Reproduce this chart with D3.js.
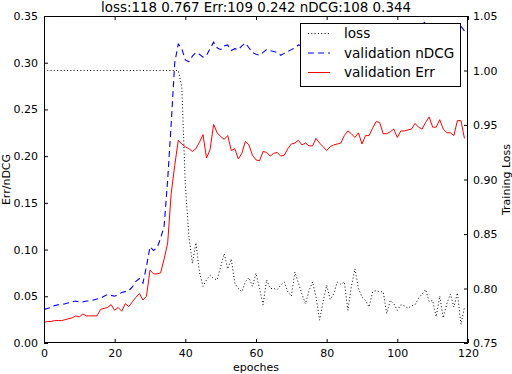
<!DOCTYPE html>
<html>
<head>
<meta charset="utf-8">
<script src="https://d3js.org/d3.v7.min.js"></script>
<style>
  body { margin: 0; background: #fff; }
  text { font-family: "DejaVu Sans", sans-serif; fill: #000; }
  .axis text { font-size: 11px; }
  .axis line { stroke: #000; }
  .axis path { display: none; }
</style>
</head>
<body>
<div id="chart"></div>
<script>
// values, one per epoch (0..119)
var err = [
  0.022, 0.023, 0.023, 0.024, 0.024, 0.024, 0.025, 0.026, 0.027, 0.029,
  0.028, 0.031, 0.029, 0.029, 0.029, 0.029, 0.036, 0.037, 0.038, 0.041,
  0.035, 0.038, 0.034, 0.042, 0.039, 0.044, 0.049, 0.053, 0.046, 0.050,
  0.078, 0.074, 0.074, 0.075, 0.090, 0.107, 0.160, 0.190, 0.217, 0.213,
  0.210, 0.208, 0.205, 0.208, 0.215, 0.223, 0.198, 0.207, 0.234, 0.225,
  0.221, 0.218, 0.222, 0.206, 0.208, 0.197, 0.203, 0.216, 0.212, 0.201,
  0.196, 0.195, 0.205, 0.204, 0.200, 0.203, 0.204, 0.200, 0.201, 0.208,
  0.213, 0.214, 0.217, 0.212, 0.214, 0.211, 0.211, 0.219, 0.214, 0.210,
  0.206, 0.210, 0.212, 0.213, 0.214, 0.222, 0.227, 0.224, 0.220, 0.225,
  0.213, 0.222, 0.222, 0.230, 0.237, 0.236, 0.224, 0.224, 0.226, 0.229,
  0.220, 0.227, 0.227, 0.228, 0.229, 0.235, 0.231, 0.229, 0.236, 0.242,
  0.231, 0.231, 0.239, 0.229, 0.225, 0.225, 0.222, 0.238, 0.238, 0.219
];
var ndcg = [
  0.036, 0.037, 0.038, 0.040, 0.041, 0.041, 0.042, 0.043, 0.044, 0.045,
  0.044, 0.044, 0.045, 0.045, 0.046, 0.047, 0.048, 0.050, 0.052, 0.051,
  0.050, 0.052, 0.054, 0.055, 0.056, 0.060, 0.066, 0.069, 0.064, 0.082,
  0.103, 0.099, 0.102, 0.112, 0.125, 0.175, 0.235, 0.300, 0.320, 0.315,
  0.303, 0.301, 0.307, 0.311, 0.309, 0.306, 0.308, 0.315, 0.322, 0.316,
  0.314, 0.318, 0.319, 0.313, 0.315, 0.314, 0.318, 0.321, 0.316, 0.311,
  0.309, 0.308, 0.311, 0.314, 0.313, 0.312, 0.311, 0.308, 0.310, 0.312,
  0.314, 0.316, 0.319, 0.318, 0.320, 0.318, 0.322, 0.321, 0.319, 0.323,
  0.325, 0.322, 0.324, 0.326, 0.323, 0.327, 0.329, 0.326, 0.328, 0.331,
  0.327, 0.329, 0.332, 0.334, 0.331, 0.333, 0.330, 0.334, 0.336, 0.333,
  0.335, 0.337, 0.334, 0.336, 0.338, 0.336, 0.339, 0.341, 0.344, 0.338,
  0.336, 0.339, 0.337, 0.335, 0.338, 0.336, 0.337, 0.340, 0.339, 0.334
];
var loss = [
  1.000, 1.000, 1.000, 1.000, 1.000, 1.000, 1.000, 1.000, 1.000, 1.000,
  1.000, 1.000, 1.000, 1.000, 1.000, 1.000, 1.000, 1.000, 1.000, 1.000,
  1.000, 1.000, 1.000, 1.000, 1.000, 1.000, 1.000, 1.000, 1.000, 1.000,
  1.000, 1.000, 1.000, 1.000, 1.000, 1.000, 1.000, 1.000, 1.000, 0.985,
  0.895, 0.848, 0.823, 0.842, 0.815, 0.802, 0.808, 0.812, 0.809, 0.808,
  0.820, 0.832, 0.818, 0.827, 0.805, 0.800, 0.797, 0.806, 0.810, 0.802,
  0.814, 0.800, 0.785, 0.808, 0.800, 0.800, 0.799, 0.803, 0.806, 0.797,
  0.793, 0.815, 0.805, 0.795, 0.786, 0.798, 0.806, 0.792, 0.771, 0.788,
  0.803, 0.790, 0.795, 0.806, 0.804, 0.806, 0.780, 0.802, 0.818, 0.800,
  0.792, 0.789, 0.783, 0.797, 0.798, 0.797, 0.797, 0.777, 0.789, 0.786,
  0.780, 0.785, 0.784, 0.782, 0.784, 0.785, 0.791, 0.795, 0.799, 0.788,
  0.789, 0.774, 0.793, 0.773, 0.786, 0.795, 0.783, 0.796, 0.767, 0.783
];
var epochs = d3.range(loss.length);

var xTicks = [0, 20, 40, 60, 80, 100, 120];
var leftTicks = [0.00, 0.05, 0.10, 0.15, 0.20, 0.25, 0.30, 0.35];
var rightTicks = [0.75, 0.80, 0.85, 0.90, 0.95, 1.00, 1.05];
var legendLabels = ["loss", "validation nDCG", "validation Err"];
var titleText = "loss:118 0.767 Err:109 0.242 nDCG:108 0.344";

var W = 512, H = 374;
var plot = { left: 44, right: 468, top: 16, bottom: 343 };

var svg = d3.select("#chart").append("svg")
  .attr("width", W)
  .attr("height", H);

var x = d3.scaleLinear().domain([0, 120]).range([plot.left, plot.right]);
var yL = d3.scaleLinear().domain([0, 0.35]).range([plot.bottom, plot.top]);
var yR = d3.scaleLinear().domain([0.75, 1.05]).range([plot.bottom, plot.top]);

svg.append("clipPath").attr("id", "clip")
  .append("rect")
  .attr("x", plot.left).attr("y", plot.top)
  .attr("width", plot.right - plot.left)
  .attr("height", plot.bottom - plot.top);

// axes, ticks pointing inward like old matplotlib
svg.append("g").attr("class", "axis")
  .attr("transform", "translate(0," + plot.bottom + ")")
  .call(d3.axisBottom(x).tickValues(xTicks).tickSizeInner(-4).tickSizeOuter(0).tickPadding(6));
svg.append("g").attr("class", "axis")
  .attr("transform", "translate(0," + plot.top + ")")
  .call(d3.axisTop(x).tickValues(xTicks).tickSizeInner(-4).tickSizeOuter(0).tickFormat(""));
svg.append("g").attr("class", "axis")
  .attr("transform", "translate(" + plot.left + ",0)")
  .call(d3.axisLeft(yL).tickValues(leftTicks).tickFormat(d3.format(".2f"))
    .tickSizeInner(-4).tickSizeOuter(0).tickPadding(6));
svg.append("g").attr("class", "axis")
  .attr("transform", "translate(" + plot.right + ",0)")
  .call(d3.axisRight(yR).tickValues(rightTicks).tickFormat(d3.format(".2f"))
    .tickSizeInner(-4).tickSizeOuter(0).tickPadding(5));

var gLines = svg.append("g").attr("clip-path", "url(#clip)");

var lineL = function(vals) {
  return d3.line().x(function(d, i) { return x(epochs[i]); })
    .y(function(d) { return yL(d); })(vals);
};
var lineR = function(vals) {
  return d3.line().x(function(d, i) { return x(epochs[i]); })
    .y(function(d) { return yR(d); })(vals);
};

gLines.append("path").attr("d", lineL(err))
  .attr("fill", "none").attr("stroke", "#ff0000").attr("stroke-width", 1);
gLines.append("path").attr("d", lineL(ndcg))
  .attr("fill", "none").attr("stroke", "#0000ff").attr("stroke-width", 1.1)
  .attr("stroke-dasharray", "6,4");
gLines.append("path").attr("d", lineR(loss))
  .attr("fill", "none").attr("stroke", "#000").attr("stroke-width", 1)
  .attr("stroke-dasharray", "1,2.3");

// frame
svg.append("rect")
  .attr("x", plot.left + 0.5).attr("y", plot.top + 0.5)
  .attr("width", plot.right - plot.left - 1)
  .attr("height", plot.bottom - plot.top - 1)
  .attr("fill", "none").attr("stroke", "#000").attr("stroke-width", 1);

// legend
var leg = svg.append("g").attr("transform", "translate(300,23)");
leg.append("rect")
  .attr("x", 0.5).attr("y", 0.5).attr("width", 160).attr("height", 63)
  .attr("fill", "#fff").attr("stroke", "#000").attr("stroke-width", 1);
var legStyles = [
  { stroke: "#000", dash: "1,2.3", width: 1 },
  { stroke: "#0000ff", dash: "6,4", width: 1.1 },
  { stroke: "#ff0000", dash: null, width: 1 }
];
legendLabels.forEach(function(label, i) {
  var cy = 10.5 + i * 19.5;
  leg.append("line")
    .attr("x1", 8).attr("x2", 30).attr("y1", cy).attr("y2", cy)
    .attr("stroke", legStyles[i].stroke)
    .attr("stroke-width", legStyles[i].width)
    .attr("stroke-dasharray", legStyles[i].dash);
  leg.append("text")
    .attr("x", 44).attr("y", cy + 4.8)
    .style("font-size", "13.6px")
    .text(label);
});

// title and axis labels
svg.append("text")
  .attr("x", (plot.left + plot.right) / 2).attr("y", 12)
  .attr("text-anchor", "middle")
  .style("font-size", "13.4px")
  .text(titleText);
svg.append("text")
  .attr("x", (plot.left + plot.right) / 2).attr("y", 371)
  .attr("text-anchor", "middle")
  .style("font-size", "11px")
  .text("epoches");
svg.append("text")
  .attr("transform", "translate(10," + (plot.top + plot.bottom) / 2 + ") rotate(-90)")
  .attr("text-anchor", "middle")
  .style("font-size", "11px")
  .text("Err/nDCG");
svg.append("text")
  .attr("transform", "translate(510," + (plot.top + plot.bottom) / 2 + ") rotate(-90)")
  .attr("text-anchor", "middle")
  .style("font-size", "11px")
  .text("Training Loss");
</script>
</body>
</html>
